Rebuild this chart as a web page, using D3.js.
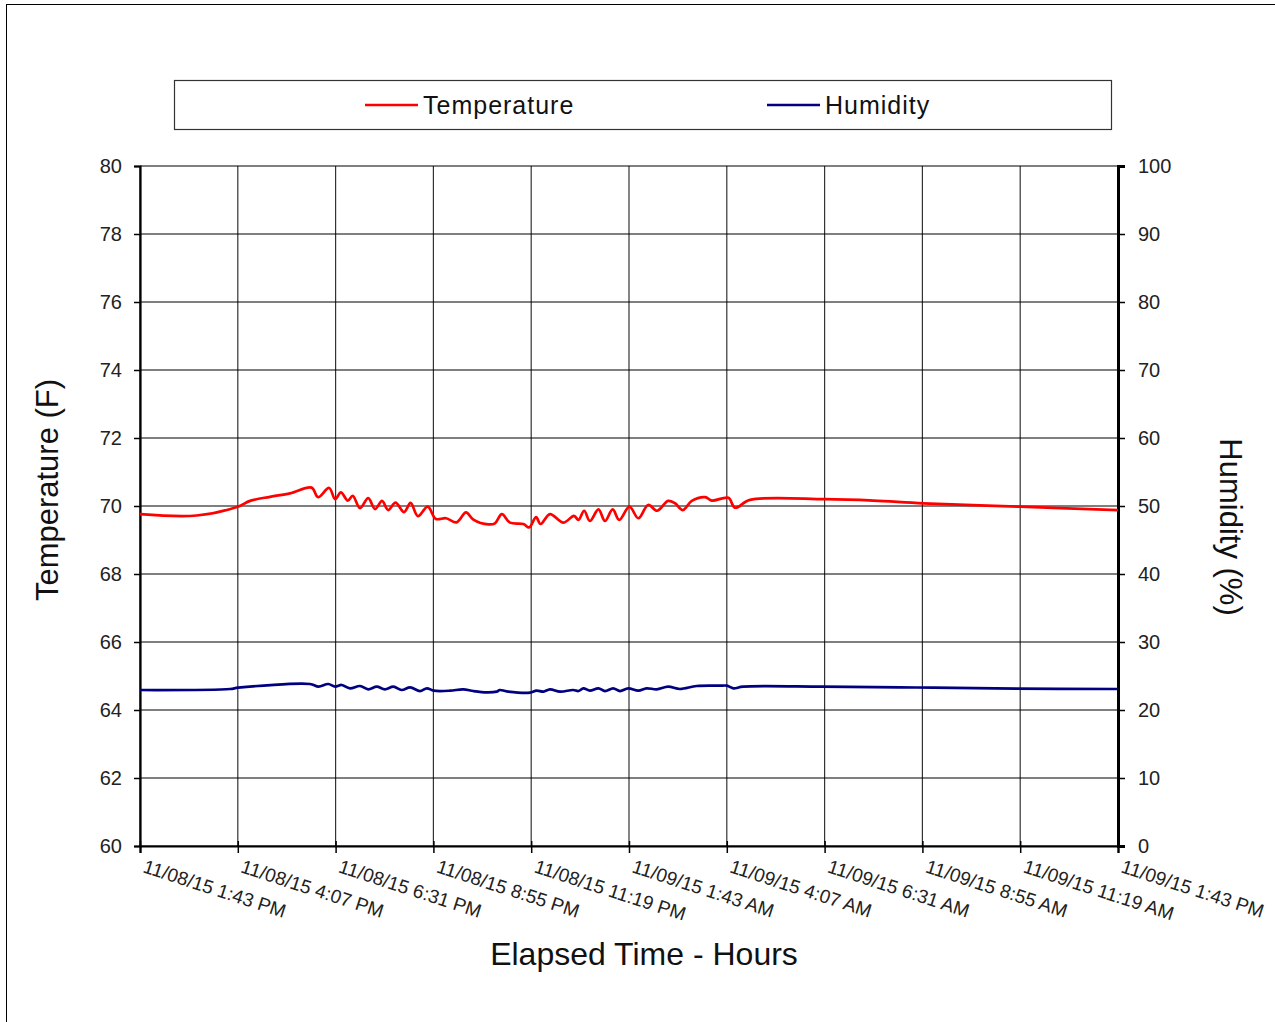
<!DOCTYPE html>
<html>
<head>
<meta charset="utf-8">
<script src="https://cdn.jsdelivr.net/npm/d3@7"></script>
<style>
  body { margin: 0; background: #fff; }
  svg { font-family: "Liberation Sans", Arial, sans-serif; }
</style>
</head>
<body>
<div class="Chart"></div>
<script>
// elapsed hours since 11/08/15 1:43 PM
const tempHours = [0, 1.39, 2.4, 2.7, 3.19, 3.68, 4.21, 4.37, 4.64, 4.79, 4.93, 5.1, 5.22, 5.4, 5.6, 5.77, 5.94, 6.09, 6.27, 6.48, 6.64, 6.82, 7.06, 7.26, 7.51, 7.77, 8.0, 8.18, 8.55, 8.71, 8.88, 9.08, 9.41, 9.55, 9.72, 9.83, 10.06, 10.39, 10.65, 10.76, 10.9, 11.04, 11.25, 11.41, 11.6, 11.76, 12.01, 12.23, 12.47, 12.69, 12.96, 13.13, 13.32, 13.54, 13.87, 14.03, 14.44, 14.6, 14.97, 16.81, 18.0, 19.22, 21.6, 24];
const tempValues = [69.76, 69.72, 69.98, 70.15, 70.27, 70.37, 70.54, 70.26, 70.53, 70.2, 70.4, 70.16, 70.3, 69.94, 70.23, 69.91, 70.15, 69.88, 70.1, 69.82, 70.09, 69.7, 69.98, 69.62, 69.64, 69.52, 69.81, 69.6, 69.46, 69.49, 69.76, 69.51, 69.47, 69.37, 69.67, 69.47, 69.76, 69.51, 69.71, 69.59, 69.86, 69.56, 69.9, 69.56, 69.9, 69.59, 69.98, 69.64, 70.03, 69.86, 70.15, 70.08, 69.88, 70.15, 70.26, 70.16, 70.24, 69.95, 70.18, 70.2, 70.16, 70.08, 69.98, 69.88];

const humHours = [0, 2.21, 2.41, 4.17, 4.38, 4.62, 4.79, 4.95, 5.15, 5.4, 5.6, 5.81, 6.01, 6.22, 6.42, 6.63, 6.87, 7.04, 7.21, 7.61, 7.93, 8.18, 8.51, 8.75, 8.83, 9.0, 9.57, 9.73, 9.9, 10.06, 10.31, 10.63, 10.76, 10.88, 11.04, 11.25, 11.41, 11.61, 11.78, 11.98, 12.23, 12.43, 12.68, 12.96, 13.25, 13.66, 14.23, 14.4, 14.56, 14.8, 16.73, 18.65, 19.47, 21.51, 24];
const humValues = [22.94, 23.09, 23.28, 23.82, 23.43, 23.82, 23.43, 23.68, 23.19, 23.53, 23.04, 23.43, 23.04, 23.43, 22.94, 23.33, 22.79, 23.19, 22.84, 22.84, 23.04, 22.79, 22.6, 22.7, 22.94, 22.74, 22.55, 22.84, 22.7, 23.04, 22.7, 22.94, 22.79, 23.19, 22.84, 23.19, 22.79, 23.19, 22.79, 23.19, 22.84, 23.19, 23.04, 23.43, 23.09, 23.53, 23.58, 23.58, 23.19, 23.43, 23.43, 23.33, 23.28, 23.14, 23.09];

const xTickLabels = ["11/08/15 1:43 PM", "11/08/15 4:07 PM", "11/08/15 6:31 PM", "11/08/15 8:55 PM", "11/08/15 11:19 PM", "11/09/15 1:43 AM", "11/09/15 4:07 AM", "11/09/15 6:31 AM", "11/09/15 8:55 AM", "11/09/15 11:19 AM", "11/09/15 1:43 PM"];
const tempTicks = [60, 62, 64, 66, 68, 70, 72, 74, 76, 78, 80];
const humTicks = [0, 10, 20, 30, 40, 50, 60, 70, 80, 90, 100];
const seriesNames = ["Temperature", "Humidity"];
const seriesColors = ["#ff0000", "#000080"];

const w = 1275, h = 1022;
const plotLeft = 140, plotRight = 1118, plotTop = 166, plotBottom = 846;

const svg = d3.select(".Chart").append("svg")
  .attr("width", w).attr("height", h);

svg.append("rect")
  .attr("x", 6.5).attr("y", 4.5).attr("width", w + 10).attr("height", h + 10)
  .attr("fill", "#fff").attr("stroke", "#000").attr("stroke-width", 1);

const xScale = d3.scaleLinear().domain([0, 24]).range([plotLeft, plotRight]);
const yScale = d3.scaleLinear().domain([60, 80]).range([plotBottom, plotTop]);
const yScale2 = d3.scaleLinear().domain([0, 100]).range([plotBottom, plotTop]);
const xTicks = d3.range(0, 24.01, 2.4);

// grid
svg.append("g")
  .selectAll("line").data(xTicks).enter().append("line")
  .attr("x1", d => xScale(d)).attr("x2", d => xScale(d))
  .attr("y1", plotTop).attr("y2", plotBottom)
  .attr("stroke", "#333").attr("stroke-width", 1.2);
svg.append("g")
  .selectAll("line").data(tempTicks).enter().append("line")
  .attr("x1", plotLeft).attr("x2", plotRight)
  .attr("y1", d => yScale(d)).attr("y2", d => yScale(d))
  .attr("stroke", "#000").attr("stroke-width", 1.2);

// axes
const xAxis = d3.axisBottom(xScale).tickValues(xTicks).tickSize(7).tickFormat("");
const gx = svg.append("g").attr("transform", "translate(0," + plotBottom + ")").call(xAxis);
const yAxis = d3.axisLeft(yScale).tickValues(tempTicks).tickSize(6).tickPadding(12);
const gy = svg.append("g").attr("transform", "translate(" + plotLeft + ",0)").call(yAxis);
const yAxis2 = d3.axisRight(yScale2).tickValues(humTicks).tickSize(7).tickPadding(13);
const gy2 = svg.append("g").attr("transform", "translate(" + plotRight + ",0)").call(yAxis2);

[gx, gy, gy2].forEach(g => {
  g.select(".domain").attr("stroke", "#000").attr("stroke-width", 2.2);
  g.selectAll(".tick line").attr("stroke", "#000").attr("stroke-width", 1.5);
  g.selectAll("text").attr("font-size", 20).attr("fill", "#222")
    .attr("font-family", "Liberation Sans, Arial, sans-serif");
});
gy2.select(".domain").attr("stroke-width", 3);
gx.selectAll(".tick line").attr("y1", -5);

// rotated x labels
svg.append("g")
  .selectAll("text").data(xTicks).enter().append("text")
  .attr("transform", d => "translate(" + (xScale(d) + 2) + "," + (plotBottom + 26) + ") rotate(18)")
  .attr("font-size", 19).attr("fill", "#222")
  .text((d, i) => xTickLabels[i]);

// lines
const tempData = tempHours.map((t, i) => ({ t: t, v: tempValues[i] }));
const humData = humHours.map((t, i) => ({ t: t, v: humValues[i] }));

svg.append("path").datum(tempData)
  .attr("d", d3.line().x(d => xScale(d.t)).y(d => yScale(d.v)).curve(d3.curveCatmullRom.alpha(0.5)))
  .attr("fill", "none").attr("stroke", seriesColors[0]).attr("stroke-width", 2.7);
svg.append("path").datum(humData)
  .attr("d", d3.line().x(d => xScale(d.t)).y(d => yScale2(d.v)).curve(d3.curveCatmullRom.alpha(0.5)))
  .attr("fill", "none").attr("stroke", seriesColors[1]).attr("stroke-width", 2.7);

// axis titles
svg.append("text")
  .attr("transform", "translate(58,490) rotate(-90)")
  .attr("text-anchor", "middle").attr("font-size", 31).attr("fill", "#111")
  .text("Temperature (F)");
svg.append("text")
  .attr("transform", "translate(1220,527) rotate(90)")
  .attr("text-anchor", "middle").attr("font-size", 31).attr("fill", "#111")
  .text("Humidity (%)");
svg.append("text")
  .attr("x", 644).attr("y", 965)
  .attr("text-anchor", "middle").attr("font-size", 32).attr("fill", "#111")
  .text("Elapsed Time - Hours");

// legend
svg.append("rect")
  .attr("x", 174.5).attr("y", 80.5).attr("width", 937).attr("height", 49)
  .attr("fill", "#fff").attr("stroke", "#333").attr("stroke-width", 1.2);
const legendX = [365, 767];
const lg = svg.append("g").selectAll("g").data(seriesNames).enter().append("g")
  .attr("transform", (d, i) => "translate(" + legendX[i] + ",105)");
lg.append("line").attr("x1", 0).attr("x2", 53).attr("y1", 0).attr("y2", 0)
  .attr("stroke", (d, i) => seriesColors[i]).attr("stroke-width", 2.7);
lg.append("text").attr("x", 58).attr("y", 9).attr("font-size", 25)
  .attr("letter-spacing", 1).attr("fill", "#111")
  .text(d => d);
</script>
</body>
</html>
